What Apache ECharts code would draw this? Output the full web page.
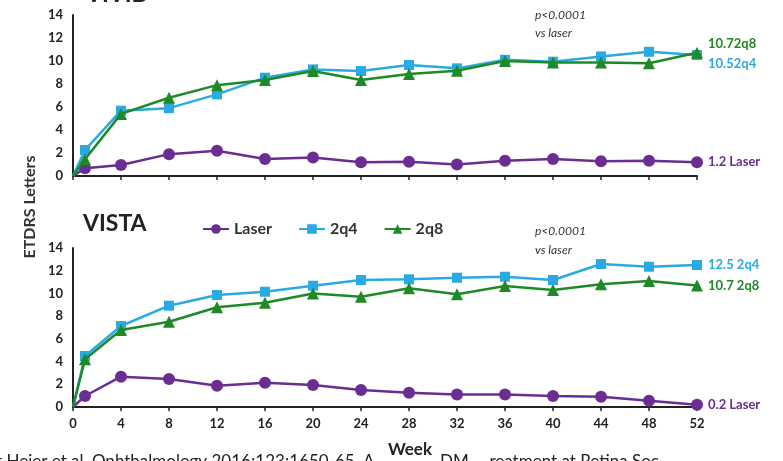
<!DOCTYPE html>
<html>
<head>
<meta charset="utf-8">
<script src="https://cdn.jsdelivr.net/npm/echarts@6/dist/echarts.min.js"></script>
<style>html,body{margin:0;padding:0;background:#fff;}#c{width:783px;height:461px;}</style>
</head>
<body>
<div id="c"></div>
<script>
const weeks = [0, 1, 4, 8, 12, 16, 20, 24, 28, 32, 36, 40, 44, 48, 52];
const xTicks = [0, 4, 8, 12, 16, 20, 24, 28, 32, 36, 40, 44, 48, 52];
const yTicks = [0, 2, 4, 6, 8, 10, 12, 14];
const legendNames = ['Laser', '2q4', '2q8'];

const vividLaser = [0, 0.67, 0.96, 1.9, 2.2, 1.48, 1.6, 1.2, 1.24, 1.0, 1.33, 1.48, 1.28, 1.33, 1.2];
const vivid2q4   = [0, 2.26, 5.68, 5.9, 7.1, 8.55, 9.27, 9.13, 9.65, 9.36, 10.1, 9.94, 10.4, 10.8, 10.52];
const vivid2q8   = [0, 1.45, 5.4, 6.8, 7.9, 8.35, 9.13, 8.35, 8.87, 9.16, 10.0, 9.88, 9.88, 9.8, 10.72];

const vistaLaser = [0, 0.97, 2.67, 2.46, 1.88, 2.14, 1.94, 1.5, 1.26, 1.11, 1.11, 0.97, 0.91, 0.56, 0.2];
const vista2q4   = [0, 4.49, 7.13, 8.92, 9.86, 10.15, 10.68, 11.18, 11.24, 11.38, 11.47, 11.18, 12.59, 12.35, 12.5];
const vista2q8   = [0, 4.2, 6.78, 7.51, 8.78, 9.18, 10.0, 9.71, 10.45, 9.92, 10.65, 10.3, 10.8, 11.09, 10.7];

const endLabels = {
  vividLaser: '1.2 Laser', vivid2q4: '10.52q4', vivid2q8: '10.72q8',
  vistaLaser: '0.2 Laser', vista2q4: '12.5 2q4', vista2q8: '10.7 2q8'
};

const C_LASER = '#6a2d91', C_2Q4 = '#2aaae2', C_2Q8 = '#1e8a26';
const FONT = 'Lato, "Open Sans", sans-serif';

function pts(vals) {
  return weeks.map((w, i) => i === 0 ? { value: [w, vals[i]], symbol: 'none' } : [w, vals[i]]);
}

function ser(name, vals, idx, color, symbol, size, label, dy) {
  return {
    name: name, type: 'line', xAxisIndex: idx, yAxisIndex: idx,
    data: pts(vals), symbol: symbol, symbolSize: size,
    color: color,
    lineStyle: { color: color, width: 2.5 },
    itemStyle: { color: color },
    emphasis: { disabled: true },
    z: name === 'Laser' ? 3 : (name === '2q4' ? 4 : 5),
    endLabel: {
      show: true, formatter: label, color: color, fontFamily: FONT,
      fontWeight: 'bold', fontSize: 13, distance: 11, offset: [0, dy]
    },
    animation: false
  };
}

function xAx(idx, showLabels) {
  return {
    type: 'value', gridIndex: idx, min: 0, max: 52, interval: 4,
    axisLine: { show: true, lineStyle: { color: '#222', width: 2 } },
    axisTick: { show: true, length: 4, lineStyle: { color: '#222', width: 1.5 } },
    splitLine: { show: false },
    axisLabel: {
      show: showLabels, color: '#222', fontFamily: FONT, fontWeight: 'bold', fontSize: 13, margin: 10,
      formatter: v => xTicks.includes(v) ? String(v) : ''
    }
  };
}
function yAx(idx) {
  return {
    type: 'value', gridIndex: idx, min: 0, max: 14, interval: 2,
    axisLine: { show: true, lineStyle: { color: '#222', width: 2 } },
    axisTick: { show: false },
    splitLine: { show: false },
    axisLabel: {
      color: '#222', fontFamily: FONT, fontWeight: 'bold', fontSize: 13, margin: 10,
      formatter: v => yTicks.includes(v) ? String(v) : ''
    }
  };
}

const chart = echarts.init(document.getElementById('c'), null, { renderer: 'canvas' });
chart.setOption({
  backgroundColor: '#ffffff',
  animation: false,
  grid: [
    { left: 73, top: 15, width: 624, height: 161 },
    { left: 73, top: 248, width: 624, height: 159 }
  ],
  xAxis: [xAx(0, false), xAx(1, true)],
  yAxis: [yAx(0), yAx(1)],
  legend: {
    data: legendNames, left: 197, top: 216, itemWidth: 26, itemHeight: 12, itemGap: 26,
    textStyle: { fontFamily: FONT, fontSize: 16, color: '#333', fontWeight: 'bold' }
  },
  series: [
    ser('Laser', vividLaser, 0, C_LASER, 'circle', 12, endLabels.vividLaser, 0),
    ser('2q4', vivid2q4, 0, C_2Q4, 'rect', 10, endLabels.vivid2q4, 9),
    ser('2q8', vivid2q8, 0, C_2Q8, 'triangle', 12, endLabels.vivid2q8, -9),
    ser('Laser', vistaLaser, 1, C_LASER, 'circle', 12, endLabels.vistaLaser, 0),
    ser('2q4', vista2q4, 1, C_2Q4, 'rect', 10, endLabels.vista2q4, 0),
    ser('2q8', vista2q8, 1, C_2Q8, 'triangle', 12, endLabels.vista2q8, 0)
  ],
  graphic: [
    { type: 'text', left: 86, top: -17, style: { text: 'VIVID', font: 'bold 23px ' + FONT, fill: '#222' } },
    { type: 'text', left: 83, top: 212, style: { text: 'VISTA', font: 'bold 23px ' + FONT, fill: '#222' } },
    { type: 'text', left: 535, top: 6, style: { text: 'p<0.0001\nvs laser', font: 'italic 12px ' + FONT, fill: '#333', lineHeight: 18 } },
    { type: 'text', left: 535, top: 222, style: { text: 'p<0.0001\nvs laser', font: 'italic 12px ' + FONT, fill: '#333', lineHeight: 19 } },
    { type: 'text', x: 30, y: 207, rotation: Math.PI / 2, style: { text: 'ETDRS Letters', font: 'bold 16px ' + FONT, fill: '#333', align: 'center', verticalAlign: 'middle' } },
    { type: 'text', x: 410, y: 450, style: { text: 'Week', font: 'bold 17px ' + FONT, fill: '#222', align: 'center', verticalAlign: 'middle' } },
    { type: 'text', left: -4, top: 453, style: { text: 't Heier et al. Ophthalmology 2016;123:1650-65. A', font: '17px ' + FONT, fill: '#222' } },
    { type: 'text', left: 440, top: 453, style: { text: 'DM ... reatment at Retina Soc', font: '17px ' + FONT, fill: '#222' } }
  ]
});
</script>
</body>
</html>
